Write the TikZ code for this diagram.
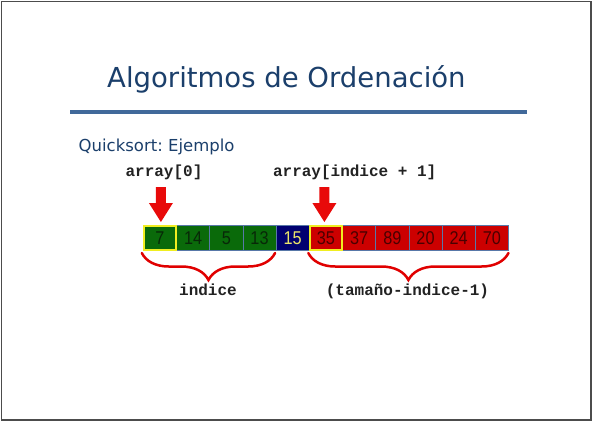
\documentclass[tikz,border=0pt]{standalone}
\usepackage{fontspec}
\setmainfont{DejaVu Sans}
\newfontfamily\cellfont{Liberation Sans}
\newfontfamily\codefont{Liberation Mono}
\usetikzlibrary{decorations.pathreplacing,calc}
\frenchspacing

\definecolor{titleblue}{HTML}{1B3F6B}
\definecolor{rulerblue}{HTML}{41699A}
\definecolor{cellgreen}{HTML}{0A6A0A}
\definecolor{cellred}{HTML}{CC0000}
\definecolor{cellnavy}{HTML}{000070}
\definecolor{cellline}{HTML}{5878A8}
\definecolor{greentext}{HTML}{082808}
\definecolor{redtext}{HTML}{4A0000}
\definecolor{navytext}{HTML}{EAE46A}
\definecolor{markred}{HTML}{E80A0A}
\definecolor{braced}{HTML}{E00000}
\definecolor{pickyellow}{HTML}{F0EE20}
\definecolor{codeink}{HTML}{222222}

\newcommand\cellnum[1]{\scalebox{0.88}[1]{#1}}

\tikzset{
  cell/.style={draw=cellline, line width=0.8pt, minimum width=33.2pt,
    minimum height=25.5pt, inner sep=0pt, outer sep=0pt, anchor=west,
    font=\cellfont\fontsize{18.5}{19}\selectfont},
  gcell/.style={fill=cellgreen, text=greentext},
  ncell/.style={fill=cellnavy, text=navytext},
  rcell/.style={fill=cellred, text=redtext},
  pickline/.style={draw=pickyellow, line width=2pt},
  codetext/.style={font=\codefont\bfseries\fontsize{16}{18}\selectfont,
    text=codeink, inner sep=0pt, anchor=base},
  bracemark/.style={draw=braced, line width=2.5pt, line cap=round,
    decorate, decoration={brace, amplitude=27pt}},
  pointer/.pic={
    \fill[markred] (-5pt,35pt) -- (5pt,35pt) -- (5pt,19pt) -- (12pt,19pt)
      -- (0pt,0pt) -- (-12pt,19pt) -- (-5pt,19pt) -- cycle;
  }
}

\begin{document}
\begin{tikzpicture}[x=1pt, y=-1pt]
  \useasboundingbox (0,0) rectangle (593,421);
  % slide frame
  \draw[gray!60!black, line width=1.5pt] (1.5,1.5) rectangle (591.2,419.8);

  % heading and rule
  \node[anchor=base west, inner sep=0pt, text=titleblue,
        font=\fontsize{27.5}{30}\selectfont] (title) at (107,87)
        {Algoritmos de Ordenación};
  \draw[rulerblue, line width=4pt] (70,112) -- (527,112);
  \node[anchor=base west, inner sep=0pt, text=titleblue,
        font=\fontsize{16.5}{19}\selectfont] (sub) at (78.5,151.7)
        {Quicksort: Ejemplo};

  % the array
  \node[cell, gcell] (c1) at (143.3,237.75) {\cellnum{7}};
  \node[cell, gcell] (c2) at (c1.east) {\cellnum{14}};
  \node[cell, gcell] (c3) at (c2.east) {\cellnum{5}};
  \node[cell, gcell] (c4) at (c3.east) {\cellnum{13}};
  \node[cell, ncell] (c5) at (c4.east) {\cellnum{15}};
  \node[cell, rcell] (c6) at (c5.east) {\cellnum{35}};
  \node[cell, rcell] (c7) at (c6.east) {\cellnum{37}};
  \node[cell, rcell] (c8) at (c7.east) {\cellnum{89}};
  \node[cell, rcell] (c9) at (c8.east) {\cellnum{20}};
  \node[cell, rcell] (c10) at (c9.east) {\cellnum{24}};
  \node[cell, rcell] (c11) at (c10.east) {\cellnum{70}};

  % highlighted cells
  \draw[pickline] ([shift={(1pt,-1pt)}]c1.north west) rectangle ([shift={(-1pt,1pt)}]c1.south east);
  \draw[pickline] ([shift={(1pt,-1pt)}]c6.north west) rectangle ([shift={(-1pt,1pt)}]c6.south east);

  % pointers with their labels
  \coordinate (tip1) at ([shift={(1pt,3pt)}]c1.north);
  \coordinate (tip6) at ([shift={(-1.5pt,3pt)}]c6.north);
  \pic at (tip1) {pointer};
  \pic at (tip6) {pointer};
  \node[codetext] (lab1) at (164,176) {array[0]};
  \node[codetext] (lab6) at (354.7,176) {array[indice + 1]};

  % braces under the two parts
  \draw[bracemark] ([shift={(-1pt,-2.5pt)}]c4.south east) -- ([shift={(-1.5pt,-2.5pt)}]c1.south west);
  \draw[bracemark] ([shift={(0pt,-2.5pt)}]c11.south east) -- ([shift={(-1pt,-2.5pt)}]c6.south west);
  \node[codetext] (left) at (208,295.5) {indice};
  \node[codetext] (right) at (407.5,295.5) {(tamaño-indice-1)};
\end{tikzpicture}
\end{document}
